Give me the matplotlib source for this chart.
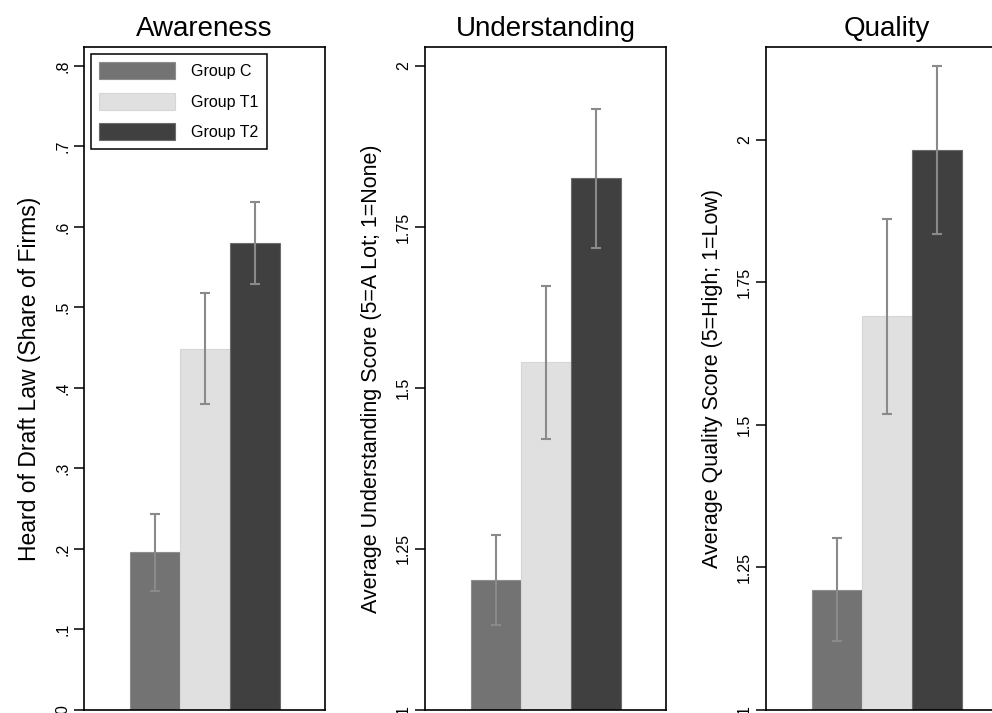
import matplotlib
matplotlib.use("Agg")
import matplotlib.pyplot as plt
from matplotlib.ticker import FixedLocator, FixedFormatter

plt.rcParams['font.family'] = ['Liberation Sans', 'DejaVu Sans']

groups = ["Group C", "Group T1", "Group T2"]
bar_colors = ["#737373", "#e0e0e0", "#404040"]
edge_colors = ["#8e8e8e", "#d6d6d6", "#6c6c6c"]

titles = ["Awareness", "Understanding", "Quality"]
ylabels = ["Heard of Draft Law (Share of Firms)",
           "Average Understanding Score (5=A Lot; 1=None)",
           "Average Quality Score (5=High; 1=Low)"]
ylabel_sizes = [16.5, 15.5, 15.5]

awareness_mean = [0.196, 0.449, 0.580]
awareness_err = [0.048, 0.069, 0.051]
understanding_mean = [1.202, 1.540, 1.826]
understanding_err = [0.070, 0.119, 0.108]
quality_mean = [1.211, 1.691, 1.982]
quality_err = [0.090, 0.171, 0.147]

aw_ticks = [0, 0.1, 0.2, 0.3, 0.4, 0.5, 0.6, 0.7, 0.8]
aw_ticklabels = ["0", ".1", ".2", ".3", ".4", ".5", ".6", ".7", ".8"]
score_ticks = [1, 1.25, 1.5, 1.75, 2]
score_ticklabels = ["1", "1.25", "1.5", "1.75", "2"]

means = [awareness_mean, understanding_mean, quality_mean]
errs = [awareness_err, understanding_err, quality_err]
ticks = [aw_ticks, score_ticks, score_ticks]
ticklabels = [aw_ticklabels, score_ticklabels, score_ticklabels]
ylims = [(0, 0.8236), (1, 2.0295), (1, 2.163)]

W, H = 992, 713
fig = plt.figure(figsize=(W / 100, H / 100), dpi=100)
lefts = [84, 425, 766]
ax_w = 241
bottom_px, top_px = 710, 47

for i in range(3):
    ax = fig.add_axes([lefts[i] / W, (H - bottom_px) / H, ax_w / W, (bottom_px - top_px) / H])
    x = list(range(len(groups)))
    for j in range(len(groups)):
        ax.bar(x[j], means[i][j], width=1.0, color=bar_colors[j],
               edgecolor=edge_colors[j], linewidth=0.8, label=groups[j], zorder=2)
    ax.errorbar(x, means[i], yerr=errs[i], fmt='none', ecolor='#8a8a8a',
                elinewidth=1.5, capsize=3.3, capthick=1.5, zorder=3)
    ax.set_xlim(-1.41, 3.41)
    ax.set_ylim(*ylims[i])
    ax.set_xticks([])
    ax.yaxis.set_major_locator(FixedLocator(ticks[i]))
    ax.yaxis.set_major_formatter(FixedFormatter(ticklabels[i]))
    ax.tick_params(axis='y', length=7, width=1.1, pad=3, labelsize=11.5,
                   labelrotation=90)
    for lab in ax.get_yticklabels():
        lab.set_va('center')
    for s in ax.spines.values():
        s.set_linewidth(1.2)
    ax.set_title(titles[i], fontsize=20, pad=8)
    ax.set_ylabel(ylabels[i], fontsize=ylabel_sizes[i], labelpad=10)
    if i == 0:
        leg = ax.legend(loc='upper left', fontsize=11.5, handlelength=4.75,
                        handleheight=1.25, handletextpad=0.95, labelspacing=0.84,
                        borderpad=0.55, borderaxespad=0.42, fancybox=False,
                        edgecolor='black', framealpha=1)
        leg.get_frame().set_linewidth(1.1)

fig.savefig("out.png", dpi=100)
